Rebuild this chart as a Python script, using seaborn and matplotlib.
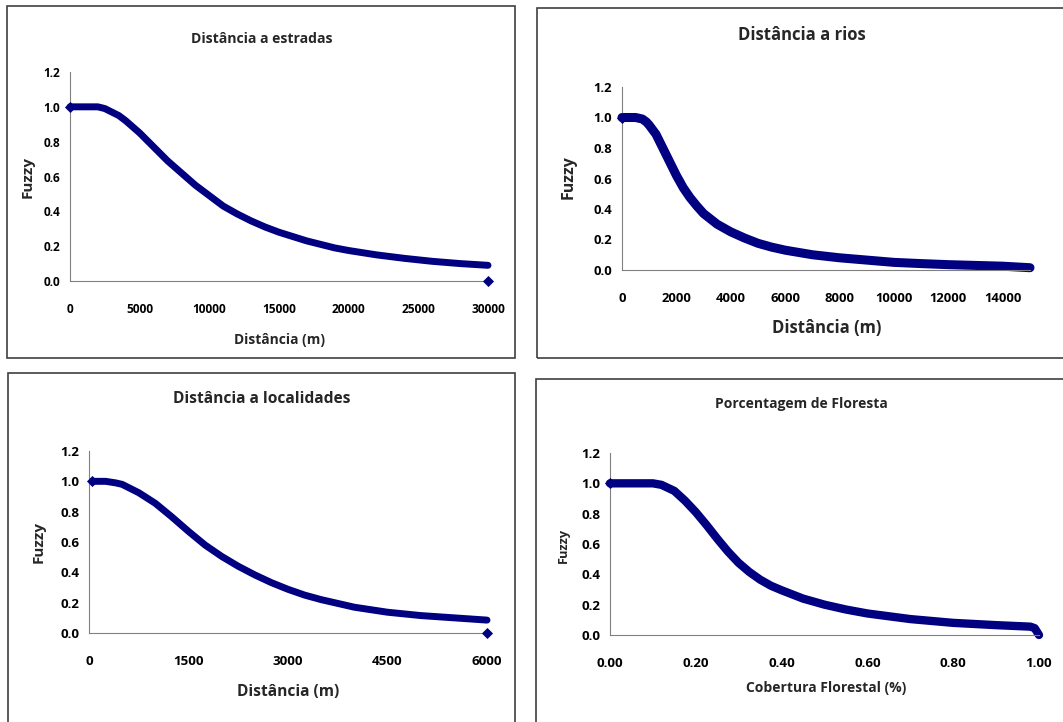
import matplotlib
matplotlib.use("Agg")
import matplotlib.pyplot as plt
import matplotlib.patches as patches
from matplotlib.ticker import FormatStrFormatter
import pandas as pd
import seaborn as sns

# Data
# Distância a estradas
estradas_x = [0, 1000, 2000, 2500, 3000, 3500, 4000, 5000, 6000, 7000, 8000, 9000, 10000,
              11000, 12000, 13000, 14000, 15000, 16000, 17000, 18000, 19000, 20000,
              22000, 24000, 26000, 28000, 30000]
estradas_y = [1.0, 1.0, 1.0, 0.99, 0.97, 0.95, 0.92, 0.85, 0.77, 0.69, 0.62, 0.55, 0.49,
              0.43, 0.385, 0.345, 0.31, 0.28, 0.255, 0.23, 0.21, 0.19, 0.175,
              0.15, 0.13, 0.113, 0.10, 0.09]
estradas_end_x = [30000]
estradas_end_y = [0.0]

# Distância a rios
rios_x = [0, 500, 750, 900, 1000, 1250, 1500, 1750, 2000, 2250, 2500, 2750, 3000, 3500,
          4000, 4500, 5000, 5500, 6000, 7000, 8000, 9000, 10000, 11000, 12000, 13000,
          14000, 15000]
rios_y = [1.0, 1.0, 0.99, 0.97, 0.95, 0.89, 0.80, 0.71, 0.62, 0.54, 0.475, 0.42, 0.37,
          0.30, 0.25, 0.21, 0.175, 0.15, 0.13, 0.10, 0.08, 0.065, 0.05, 0.042, 0.035,
          0.03, 0.025, 0.015]
rios_end_x = []
rios_end_y = []

# Distância a localidades
local_x = [50, 250, 400, 500, 750, 1000, 1250, 1500, 1750, 2000, 2250, 2500, 2750,
           3000, 3250, 3500, 4000, 4500, 5000, 5500, 6000]
local_y = [1.0, 1.0, 0.99, 0.98, 0.925, 0.855, 0.765, 0.67, 0.58, 0.505, 0.44, 0.383,
           0.332, 0.288, 0.25, 0.22, 0.17, 0.137, 0.115, 0.10, 0.085]
local_end_x = [6000]
local_end_y = [0.0]

# Porcentagem de Floresta
floresta_x = [0, 0.05, 0.10, 0.12, 0.15, 0.175, 0.20, 0.225, 0.25, 0.275, 0.30, 0.325,
              0.35, 0.375, 0.40, 0.45, 0.50, 0.55, 0.60, 0.70, 0.80, 0.90, 0.98, 0.99, 1.0]
floresta_y = [1.0, 1.0, 1.0, 0.99, 0.95, 0.885, 0.81, 0.725, 0.635, 0.55, 0.475, 0.415,
              0.365, 0.325, 0.295, 0.24, 0.20, 0.168, 0.142, 0.105, 0.08, 0.065, 0.055,
              0.045, 0.0]
floresta_end_x = []
floresta_end_y = []

titles = ["Distância a estradas", "Distância a rios",
          "Distância a localidades", "Porcentagem de Floresta"]
xlabels = ["Distância (m)", "Distância (m)", "Distância (m)", "Cobertura Florestal (%)"]

sns.set_style("white")
plt.rcParams['font.family'] = ['Open Sans', 'DejaVu Sans']
plt.rcParams['font.weight'] = 'bold'

W, H = 1063, 722
fig = plt.figure(figsize=(W / 100, H / 100), dpi=100)
navy = "#000080"


def box(l, t, r, b):
    return [l / W, 1 - b / H, (r - l) / W, (b - t) / H]


panels = [
    dict(x=estradas_x, y=estradas_y, ex=estradas_end_x, ey=estradas_end_y,
         ax=box(70, 72, 488, 281), frame=(7, 6, 515, 358), xlim=30000, xstep=5000,
         xfmt="%d", lw=5, tick=8.6, title=(262, 39, 10.1), xl=(279, 340, 9.9), yl=(28, 177, 11)),
    dict(x=rios_x, y=rios_y, ex=rios_end_x, ey=rios_end_y,
         ax=box(622, 87, 1030, 270), frame=(537, 8, 1090, 358), xlim=15000, xstep=2000,
         xfmt="%d", lw=6.5, tick=9.4, title=(802, 35, 12), xl=(827, 328, 12), yl=(569, 177, 11.5)),
    dict(x=local_x, y=local_y, ex=local_end_x, ey=local_end_y,
         ax=box(89, 451, 487, 633), frame=(8, 373, 515, 750), xlim=6000, xstep=1500,
         xfmt="%d", lw=5, tick=9.6, title=(262, 399, 11.2), xl=(288, 692, 11.2), yl=(39, 542, 11)),
    dict(x=floresta_x, y=floresta_y, ex=floresta_end_x, ey=floresta_end_y,
         ax=box(610, 453, 1039, 635), frame=(536, 379, 1090, 750), xlim=1.0, xstep=0.2,
         xfmt="%.2f", lw=6, tick=9.6, title=(801, 404, 10), xl=(826, 688, 10), yl=(563, 545, 9.2)),
]

for i, p in enumerate(panels):
    # outer chart frame
    l, t, r, b = p["frame"]
    fig.patches.append(patches.Rectangle((l / W, 1 - b / H), (r - l) / W, (b - t) / H,
                                         transform=fig.transFigure, fill=False,
                                         edgecolor="#404040", linewidth=1.2))
    ax = fig.add_axes(p["ax"])
    df = pd.DataFrame({"x": p["x"], "y": p["y"]})
    sns.lineplot(data=df, x="x", y="y", ax=ax, color=navy, linewidth=p["lw"],
                 sort=False, solid_capstyle="round", solid_joinstyle="round", clip_on=False)
    # diamond markers at the first point and any separate end point
    tips = pd.DataFrame({"x": [p["x"][0]] + p["ex"], "y": [p["y"][0]] + p["ey"]})
    sns.scatterplot(data=tips, x="x", y="y", ax=ax, color=navy, marker="D", s=32,
                    edgecolor=navy, linewidth=0, clip_on=False, zorder=3)

    ax.set_xlim(0, p["xlim"])
    ax.set_ylim(0, 1.2)
    n = int(round(p["xlim"] / p["xstep"]))
    ax.set_xticks([k * p["xstep"] for k in range(n + 1) if k * p["xstep"] <= p["xlim"] + 1e-9])
    ax.set_yticks([0, 0.2, 0.4, 0.6, 0.8, 1.0, 1.2])
    ax.xaxis.set_major_formatter(FormatStrFormatter(p["xfmt"]))
    ax.yaxis.set_major_formatter(FormatStrFormatter("%.1f"))
    ax.set_xlabel("")
    ax.set_ylabel("")
    ax.tick_params(axis="both", direction="out", length=4, width=1, color="#808080",
                   labelsize=p["tick"], labelcolor="black")
    ax.tick_params(axis="x", pad=12)
    ax.tick_params(axis="y", pad=3)
    for s in ["top", "right"]:
        ax.spines[s].set_visible(False)
    ax.spines["left"].set_color("#808080")
    ax.spines["bottom"].set_color("#808080")
    ax.patch.set_alpha(0)
    for lab in ax.get_xticklabels() + ax.get_yticklabels():
        lab.set_fontweight("bold")

    tx, ty, ts = p["title"]
    fig.text(tx / W, 1 - ty / H, titles[i], ha="center", va="center",
             fontsize=ts, fontweight="bold")
    xx, xy, xs = p["xl"]
    fig.text(xx / W, 1 - xy / H, xlabels[i], ha="center", va="center",
             fontsize=xs, fontweight="bold")
    yx, yy, ys = p["yl"]
    fig.text(yx / W, 1 - yy / H, "Fuzzy", ha="center", va="center", rotation=90,
             fontsize=ys, fontweight="bold")

fig.savefig("out.png", dpi=100, facecolor="white")
